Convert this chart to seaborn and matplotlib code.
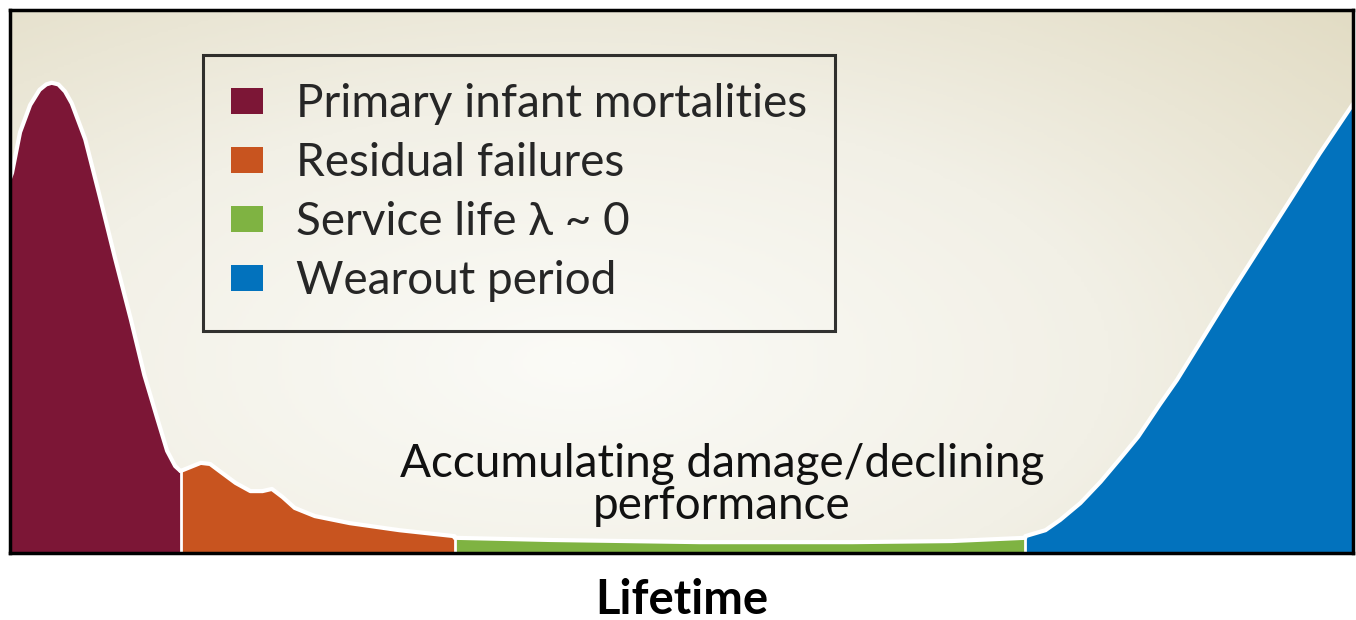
import numpy as np
import pandas as pd
import matplotlib
matplotlib.use("Agg")
import matplotlib.pyplot as plt
from matplotlib.patches import Patch
from matplotlib.colors import LinearSegmentedColormap
import seaborn as sns

# ---- data (x: lifetime 0-100, y: failure rate 0-100) ----
infant_x = [0.0, 0.15, 0.75, 1.5, 2.2, 2.7, 3.1, 3.6, 4.1, 4.6, 5.6, 6.7, 7.8, 9.0, 10.0, 11.0, 11.7, 12.3, 12.7]
infant_y = [69.0, 70.0, 77.5, 82.5, 85.3, 86.3, 86.6, 86.3, 85.0, 82.8, 76.2, 65.5, 54.5, 43.0, 32.8, 24.5, 18.8, 16.0, 15.1]

resid_x = [12.7, 13.4, 14.2, 14.9, 15.6, 16.8, 17.9, 18.8, 19.5, 20.3, 21.2, 22.7, 25.3, 29.0, 33.1]
resid_y = [15.1, 15.8, 16.6, 16.4, 15.1, 12.9, 11.4, 11.4, 11.8, 10.3, 8.3, 6.8, 5.5, 4.2, 3.1]

service_x = [33.1, 40.2, 51.4, 62.7, 70.1, 75.6]
service_y = [2.8, 2.4, 2.0, 2.0, 2.2, 2.8]

wear_x = [75.6, 77.1, 78.2, 79.7, 81.2, 82.7, 84.0, 85.6, 86.9, 88.6, 90.8, 93.1, 95.5, 97.5, 100.0]
wear_y = [3.1, 4.2, 6.1, 9.2, 13.1, 17.5, 21.4, 27.3, 31.9, 38.7, 47.5, 56.4, 65.7, 73.5, 82.7]

labels = ["Primary infant mortalities", "Residual failures",
          "Service life λ ~ 0", "Wearout period"]
colors = ["#7c1636", "#c8541f", "#7fb342", "#0272bd"]
annotation = "Accumulating damage/declining\nperformance"
xlabel = "Lifetime"

sns.set_theme(style="white")
plt.rcParams['font.family'] = ['Lato', 'DejaVu Sans']

fig = plt.figure(figsize=(13.56, 6.2), dpi=100)
ax = fig.add_axes([10/1356, 67/620, 1343/1356, 543/620])

# background radial gradient
gx, gy = np.meshgrid(np.linspace(0, 1, 400), np.linspace(0, 1, 200))
r = np.sqrt(((gx - 0.42) / 0.8) ** 2 + ((gy - 0.35) / 0.95) ** 2)
cmap = LinearSegmentedColormap.from_list("bg", ["#fbfbf7", "#f2f0e6", "#e2dcc4"])
ax.imshow(r, extent=[0, 100, 0, 100], origin="lower", cmap=cmap,
          aspect="auto", zorder=0, vmin=0.0, vmax=1.0)

segments = [(infant_x, infant_y), (resid_x, resid_y),
            (service_x, service_y), (wear_x, wear_y)]
frames = []
for i, (sx, sy) in enumerate(segments):
    frames.append(pd.DataFrame({"x": sx, "y": sy, "phase": labels[i]}))
    ax.fill_between(sx, 0, sy, color=colors[i], linewidth=0, zorder=2)
df = pd.concat(frames, ignore_index=True)

# white outline along the curve
sns.lineplot(data=df, x="x", y="y", units="phase", estimator=None, sort=False,
             color="white", linewidth=3.0, ax=ax, zorder=3, legend=False)
# white separators
for bx, by in [(infant_x[-1], infant_y[-1]), (resid_x[-1], resid_y[-1]),
               (service_x[-1], service_y[-1])]:
    ax.plot([bx, bx], [0, by], color="white", linewidth=2.0, zorder=3)

ax.set_xlim(0, 100)
ax.set_ylim(0, 100)
ax.set_xticks([])
ax.set_yticks([])
ax.set_xlabel(xlabel, fontsize=34, fontweight="bold", labelpad=18, color="black")
ax.set_ylabel("")
for s in ax.spines.values():
    s.set_visible(True)
    s.set_color("black")
    s.set_linewidth(2.5)
    s.set_zorder(5)

ax.text(53.0, 12.5, annotation, ha="center", va="center", fontsize=33,
        color="#111111", linespacing=1.0, zorder=4)

handles = [Patch(facecolor=c, edgecolor="none") for c in colors]
leg = ax.legend(handles, labels, loc="upper left",
                bbox_to_anchor=(0.1437, 0.917), borderaxespad=0,
                fontsize=33, frameon=True, fancybox=False,
                handlelength=0.7, handleheight=0.5, handletextpad=0.7,
                labelspacing=0.37, borderpad=0.62)
frame = leg.get_frame()
frame.set_facecolor("none")
frame.set_edgecolor("black")
frame.set_linewidth(2.2)
leg.set_zorder(6)

fig.patch.set_facecolor("white")
fig.savefig("out.png", dpi=100, facecolor="white")
